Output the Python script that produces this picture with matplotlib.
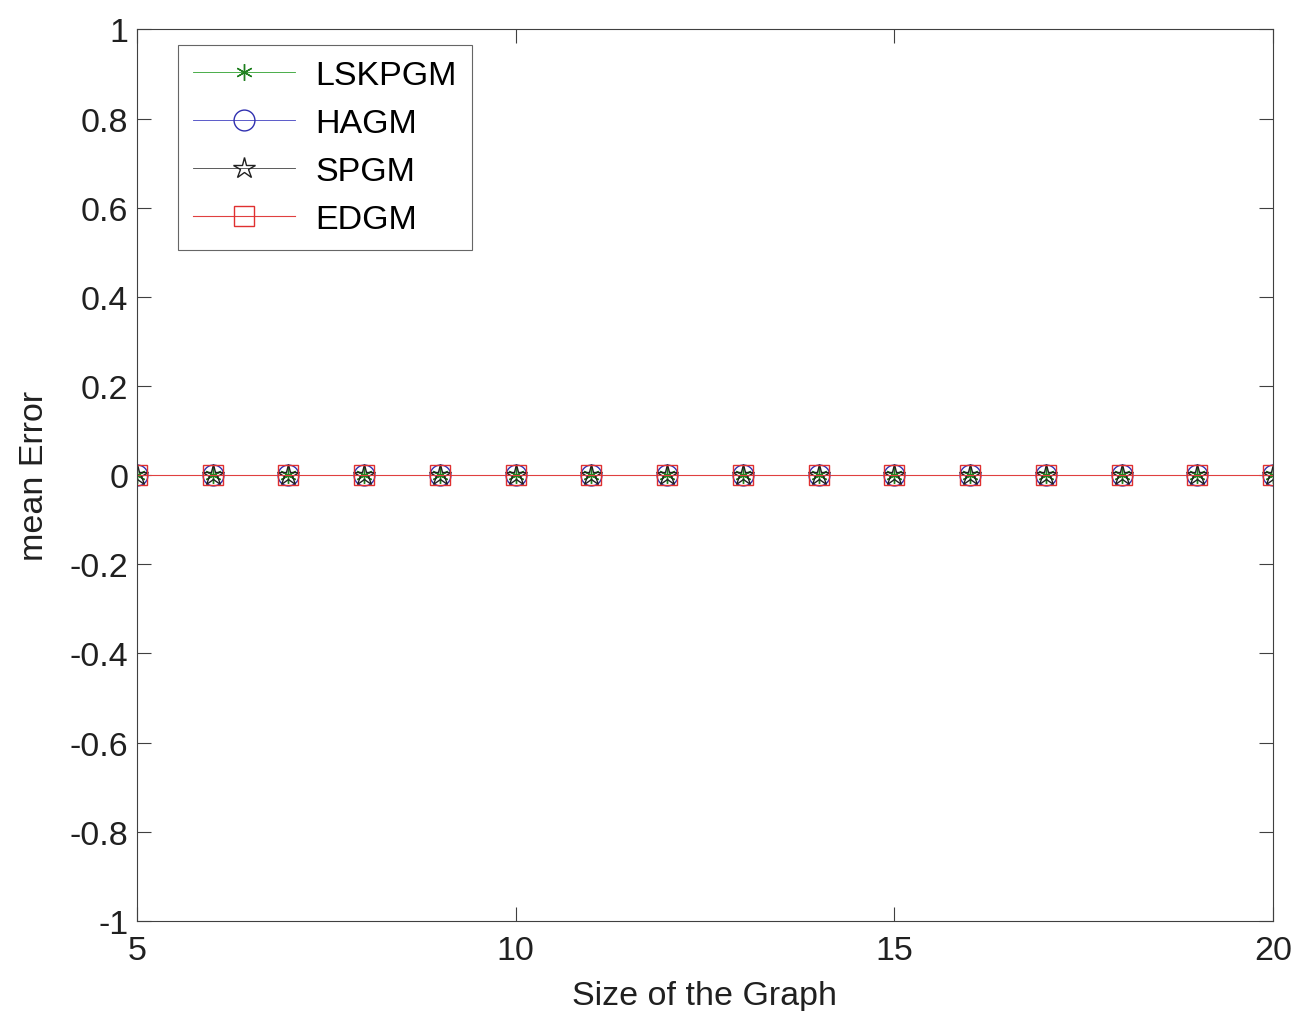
import numpy as np
import matplotlib.pyplot as plt

plt.rcParams['font.family'] = ['Liberation Sans', 'DejaVu Sans']

# graph sizes and mean error per method
sizes = [5, 6, 7, 8, 9, 10, 11, 12, 13, 14, 15, 16, 17, 18, 19, 20]
err_lskpgm = [0, 0, 0, 0, 0, 0, 0, 0, 0, 0, 0, 0, 0, 0, 0, 0]
err_hagm = [0, 0, 0, 0, 0, 0, 0, 0, 0, 0, 0, 0, 0, 0, 0, 0]
err_spgm = [0, 0, 0, 0, 0, 0, 0, 0, 0, 0, 0, 0, 0, 0, 0, 0]
err_edgm = [0, 0, 0, 0, 0, 0, 0, 0, 0, 0, 0, 0, 0, 0, 0, 0]

fig = plt.figure(figsize=(13.03, 10.12), dpi=100)
ax = fig.add_axes([0.105, 0.089, 0.872, 0.881])

ax.plot(sizes, err_lskpgm, color='#2ca02c', lw=0.6, marker=(6, 2, 0), ms=12,
        mec='#208020', mew=1.0, label='LSKPGM')
ax.plot(sizes, err_hagm, color='#4040c0', lw=0.6, marker='o', ms=15,
        mfc='none', mec='#3030b0', mew=1.0, label='HAGM')
ax.plot(sizes, err_spgm, color='#404040', lw=0.6, marker='*', ms=16,
        mfc='none', mec='#202020', mew=1.0, label='SPGM')
ax.plot(sizes, err_edgm, color='#e04040', lw=0.8, marker='s', ms=15,
        mfc='none', mec='#e03030', mew=1.0, label='EDGM')

ax.set_xlim(5, 20)
ax.set_ylim(-1, 1)
ax.set_xticks([5, 10, 15, 20])
ax.set_yticks(np.arange(-1, 1.01, 0.2))
ax.set_yticklabels(['-1', '-0.8', '-0.6', '-0.4', '-0.2', '0', '0.2', '0.4', '0.6', '0.8', '1'])
ax.tick_params(direction='in', top=True, right=True, length=10, width=0.8,
               labelsize=24.5, color='#404040', labelcolor='#202020')
ax.tick_params(axis='x', pad=10)
ax.tick_params(axis='y', pad=6)
for s in ax.spines.values():
    s.set_color('#404040')
    s.set_linewidth(0.8)

ax.set_xlabel('Size of the Graph', fontsize=24.5, color='#202020', labelpad=10)
ax.set_ylabel('mean Error', fontsize=24.5, color='#202020', labelpad=14)

leg = ax.legend(loc='upper left', bbox_to_anchor=(0.036, 0.983), fontsize=24.5,
                frameon=True, fancybox=False, edgecolor='#404040',
                handlelength=3.0, borderpad=0.45, labelspacing=0.5,
                handletextpad=0.6, borderaxespad=0)
leg.get_frame().set_linewidth(0.8)

fig.savefig('out.png', dpi=100, facecolor='white')
